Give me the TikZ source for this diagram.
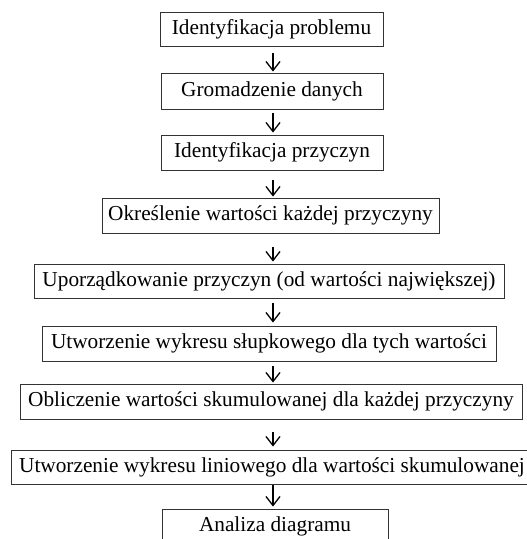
\documentclass[tikz,border=0pt]{standalone}
\usepackage{fontspec}
\setmainfont{Liberation Serif}
\usetikzlibrary{arrows.meta}
\begin{document}
\begin{tikzpicture}[x=1pt,y=1pt,
  stepbox/.style={draw=black!80, line width=0.9pt, inner sep=0pt, align=center,
    font=\fontsize{21.3}{24}\selectfont, text=black},
  arr/.style={draw=black, line width=1.3pt, -{Straight Barb[length=9pt,width=14pt,line width=1.3pt]}}]
\useasboundingbox (0,0) rectangle (527,-539);
\node[stepbox, minimum width=223pt, minimum height=34pt] (b1) at (271.5,-29) {Identyfikacja problemu};
\node[stepbox, minimum width=222pt, minimum height=36pt] (b2) at (272,-91) {Gromadzenie danych};
\node[stepbox, minimum width=222pt, minimum height=35pt] (b3) at (272,-152.5) {Identyfikacja przyczyn};
\node[stepbox, minimum width=337pt, minimum height=35pt] (b4) at (270.5,-215.5) {Określenie wartości każdej przyczyny};
\node[stepbox, minimum width=470pt, minimum height=34pt] (b5) at (269,-281) {Uporządkowanie przyczyn (od wartości największej)};
\node[stepbox, minimum width=454pt, minimum height=35pt] (b6) at (269,-343.5) {Utworzenie wykresu słupkowego dla tych wartości};
\node[stepbox, minimum width=502pt, minimum height=35pt] (b7) at (271,-401.5) {Obliczenie wartości skumulowanej dla każdej przyczyny};
\node[stepbox, minimum width=522pt, minimum height=34pt] (b8) at (272,-467) {Utworzenie wykresu liniowego dla wartości skumulowanej};
\node[stepbox, minimum width=226pt, minimum height=35pt] (b9) at (275,-526.5) {Analiza diagramu};
\draw[arr, shorten <=7pt, shorten >=1pt] (b1.south -| 273,0) -- (b2.north -| 273,0);
\draw[arr, shorten <=4pt, shorten >=2pt] (b2.south -| 273,0) -- (b3.north -| 273,0);
\draw[arr, shorten <=10pt, shorten >=1pt] (b3.south -| 273,0) -- (b4.north -| 273,0);
\draw[arr, shorten <=14pt, shorten >=2pt] (b4.south -| 273,0) -- (b5.north -| 273,0);
\draw[arr, shorten <=5pt, shorten >=3pt] (b5.south -| 273,0) -- (b6.north -| 273,0);
\draw[arr, shorten <=5pt, shorten >=1pt] (b6.south -| 273,0) -- (b7.north -| 273,0);
\draw[arr, shorten <=13pt, shorten >=3pt] (b7.south -| 273,0) -- (b8.north -| 273,0);
\draw[arr, shorten <=1pt, shorten >=2pt] (b8.south -| 273,0) -- (b9.north -| 273,0);
\end{tikzpicture}
\end{document}
